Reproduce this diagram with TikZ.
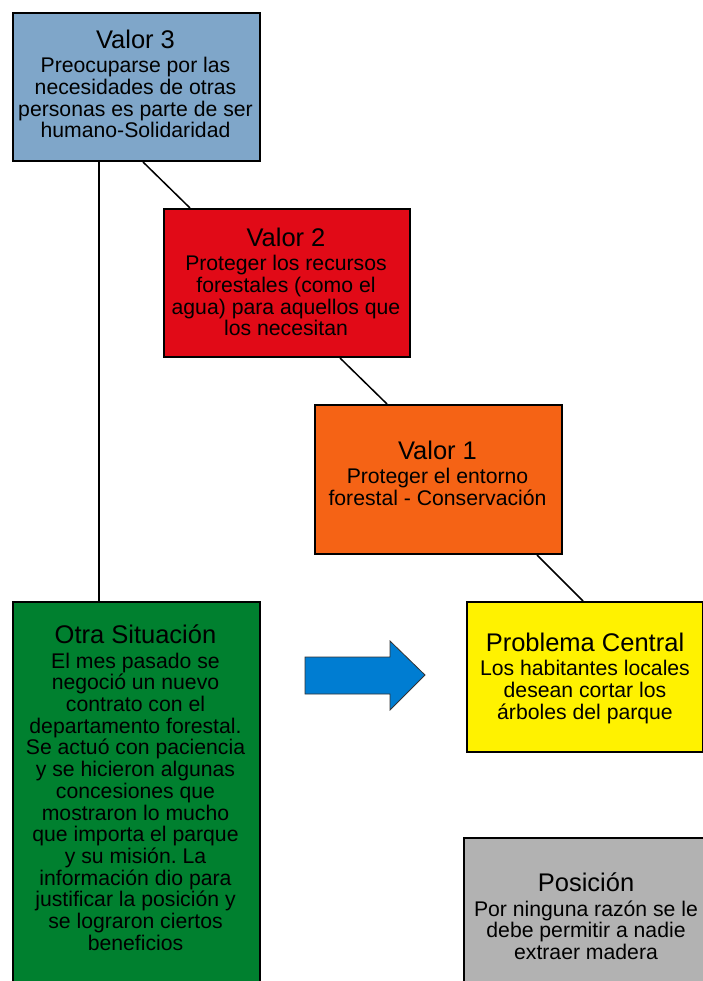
\documentclass[tikz,border=0pt]{standalone}
\usepackage{fontspec}
\setmainfont{Liberation Sans}
\usetikzlibrary{calc}
\definecolor{vblue}{RGB}{127,166,201}
\definecolor{vred}{RGB}{225,10,23}
\definecolor{vorange}{RGB}{245,99,21}
\definecolor{vyellow}{RGB}{255,242,0}
\definecolor{vgreen}{RGB}{0,128,47}
\definecolor{vgray}{RGB}{178,178,178}
\definecolor{varrow}{RGB}{0,125,210}
\tikzset{
  card/.style={draw=black, line width=2pt, anchor=north west, inner sep=0pt},
  cardtext/.style={anchor=north, inner sep=0pt, align=center, text=black,
    font=\fontsize{21.2}{21.7}\selectfont\frenchspacing},
  link/.style={draw=black, line width=1.5pt},
}
\newcommand{\cardtitle}[1]{{\fontsize{25.5}{21.7}\selectfont #1}\\[2.5pt]}
\begin{document}
\begin{tikzpicture}[x=1pt,y=-1pt]
  \useasboundingbox (0,0) rectangle (703,981);
  \clip (0,0) rectangle (703,981);
  \fill[white] (0,0) rectangle (703,981);

  % boxes
  \node[card, fill=vblue,   minimum width=247, minimum height=148] (v3) at (12,12) {};
  \node[card, fill=vred,    minimum width=246, minimum height=148] (v2) at (163,208) {};
  \node[card, fill=vorange, minimum width=247, minimum height=149] (v1) at (314,404) {};
  \node[card, fill=vyellow, minimum width=236, minimum height=150] (pc) at (466,601) {};
  \node[card, fill=vgreen,  minimum width=247, minimum height=420] (os) at (12,601) {};
  \node[card, fill=vgray,   minimum width=280, minimum height=180] (pos) at (463,837) {};

  % connectors
  \draw[link] ($(v3.south west)+(87,0)$) -- ($(os.north west)+(87,0)$);
  \draw[link] ($(v3.south west)+(131,0)$) -- ($(v2.north west)+(27,0)$);
  \draw[link] ($(v2.south west)+(177,0)$) -- ($(v1.north west)+(73,0)$);
  \draw[link] ($(v1.south west)+(223,0)$) -- ($(pc.north west)+(117,0)$);

  % block arrow
  \draw[fill=varrow, draw=black!80, line width=0.8pt]
    (305,657) -- (390,657) -- (390,641) -- (425,675) -- (390,710) -- (390,694) -- (305,694) -- cycle;

  % texts
  \node[cardtext] (t3) at (135.5,30) {\cardtitle{Valor 3}Preocuparse por las\\necesidades de otras\\personas es parte de ser\\humano-Solidaridad};
  \node[cardtext] (t2) at (286,228) {\cardtitle{Valor 2}Proteger los recursos\\forestales (como el\\agua) para aquellos que\\los necesitan};
  \node[cardtext] (t1) at (437.5,441) {\cardtitle{Valor 1}Proteger el entorno\\forestal - Conservación};
  \node[cardtext] (tpc) at (585,633) {\cardtitle{Problema Central}Los habitantes locales\\desean cortar los\\árboles del parque};
  \node[cardtext] (tos) at (135.5,625) {\cardtitle{Otra Situación}El mes pasado se\\negoció un nuevo\\contrato con el\\departamento forestal.\\Se actuó con paciencia\\y se hicieron algunas\\concesiones que\\mostraron lo mucho\\que importa el parque\\y su misión. La\\información dio para\\justificar la posición y\\se lograron ciertos\\beneficios};
  \node[cardtext] (tpos) at (586,873) {\cardtitle{Posición}Por ninguna razón se le\\debe permitir a nadie\\extraer madera};
\end{tikzpicture}
\end{document}
